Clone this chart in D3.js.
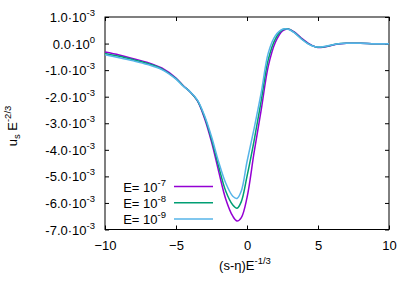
<!DOCTYPE html>
<html>
<head>
<meta charset="utf-8">
<script src="https://cdn.jsdelivr.net/npm/d3@7"></script>
<style>
  body { margin: 0; background: #fff; }
  svg text { font-family: "Liberation Sans", Arial, sans-serif; fill: #000; }
</style>
</head>
<body>
<div id="chart"></div>
<script>
// values of u_s E^-2/3 in units of 1e-3
const xs = [-10, -9, -8, -7, -6, -5, -4.5, -4, -3.5, -3, -2.5, -2, -1.5, -1, -0.7, -0.4, 0, 0.5, 1, 1.5, 2, 2.5, 2.9, 3.3, 3.8, 4.3, 4.8, 5.2, 5.7, 6.3, 7, 8, 9, 10];
const e7 = [-0.32, -0.43, -0.57, -0.71, -0.92, -1.30, -1.58, -1.82, -2.15, -2.80, -3.70, -4.80, -5.85, -6.50, -6.68, -6.55, -5.80, -4.10, -2.50, -0.85, 0.05, 0.48, 0.55, 0.45, 0.22, 0.02, -0.12, -0.15, -0.10, -0.03, 0.01, 0.01, -0.01, -0.01];
const e8 = [-0.37, -0.48, -0.61, -0.75, -0.95, -1.32, -1.59, -1.82, -2.14, -2.75, -3.60, -4.62, -5.55, -6.08, -6.20, -5.95, -5.00, -3.65, -2.15, -0.60, 0.18, 0.52, 0.55, 0.43, 0.20, 0.00, -0.12, -0.14, -0.09, -0.02, 0.01, 0.01, -0.01, -0.01];
const e9 = [-0.42, -0.53, -0.65, -0.79, -0.98, -1.34, -1.60, -1.82, -2.12, -2.70, -3.50, -4.45, -5.25, -5.75, -5.83, -5.55, -4.45, -3.20, -1.85, -0.35, 0.30, 0.54, 0.54, 0.42, 0.18, -0.01, -0.12, -0.13, -0.08, -0.02, 0.01, 0.01, -0.01, -0.01];

const seriesNames = ['-7', '-8', '-9'];
const seriesColors = ['#9400d3', '#009e73', '#56b4e9'];
const seriesValues = [e7, e8, e9];

const xTicks = [-10, -5, 0, 5, 10];
const yTicks = [1, 0, -1, -2, -3, -4, -5, -6, -7];
const yTickMant = ['1.0', '0.0', '-1.0', '-2.0', '-3.0', '-4.0', '-5.0', '-6.0', '-7.0'];
const yTickExp = ['-3', '0', '-3', '-3', '-3', '-3', '-3', '-3', '-3'];

let dimensions = {
  width: 415,
  height: 291,
  margin: { top: 17, bottom: 61.5, left: 105, right: 26 },
};
dimensions.ctrWidth = dimensions.width - dimensions.margin.left - dimensions.margin.right;
dimensions.ctrHeight = dimensions.height - dimensions.margin.top - dimensions.margin.bottom;

const svg = d3.select('#chart').append('svg')
  .attr('width', dimensions.width)
  .attr('height', dimensions.height);

const ctr = svg.append('g')
  .attr('transform', `translate(${dimensions.margin.left}, ${dimensions.margin.top})`);

const xScale = d3.scaleLinear().domain([-10, 10]).range([0, dimensions.ctrWidth]);
const yScale = d3.scaleLinear().domain([-7, 1]).range([dimensions.ctrHeight, 0]);

// ticks (mirrored on all four sides, pointing inwards)
const tickLen = 4;
const xAxis = d3.axisBottom(xScale).tickValues(xTicks).tickSize(-tickLen).tickPadding(9).tickFormat(d3.format('d'));
const xAxisTop = d3.axisTop(xScale).tickValues(xTicks).tickSize(-tickLen).tickFormat('');
const yAxis = d3.axisLeft(yScale).tickValues(yTicks).tickSize(-tickLen).tickFormat('');
const yAxisRight = d3.axisRight(yScale).tickValues(yTicks).tickSize(-tickLen).tickFormat('');

const xg = ctr.append('g').attr('transform', `translate(0, ${dimensions.ctrHeight})`).call(xAxis);
xg.selectAll('text').attr('font-size', 13).style('font-family', '"Liberation Sans", Arial, sans-serif').attr('dy', '0.85em');
ctr.append('g').call(xAxisTop);
ctr.append('g').call(yAxis);
ctr.append('g').attr('transform', `translate(${dimensions.ctrWidth}, 0)`).call(yAxisRight);
ctr.selectAll('.domain').remove();
ctr.selectAll('.tick line').attr('stroke', '#000');

// y tick labels with superscript exponents
yTicks.forEach((t, i) => {
  const txt = ctr.append('text')
    .attr('x', -10)
    .attr('y', yScale(t) + 5)
    .attr('text-anchor', 'end')
    .attr('font-size', 13);
  txt.append('tspan').text(yTickMant[i] + '\u00b710');
  txt.append('tspan').attr('dy', -6).attr('font-size', 9.5).text(yTickExp[i]);
});

// border
ctr.append('rect')
  .attr('width', dimensions.ctrWidth)
  .attr('height', dimensions.ctrHeight)
  .attr('fill', 'none')
  .attr('stroke', '#000')
  .attr('stroke-width', 1);

// curves
const line = d3.line()
  .x((d, i) => xScale(xs[i]))
  .y((d) => yScale(d))
  .curve(d3.curveCatmullRom);

seriesValues.forEach((vals, k) => {
  ctr.append('path')
    .datum(vals)
    .attr('d', line)
    .attr('fill', 'none')
    .attr('stroke', seriesColors[k])
    .attr('stroke-width', 1.5);
});

// legend
const legend = ctr.append('g');
seriesNames.forEach((name, k) => {
  const ly = 169.5 + k * 16.2;
  const t = legend.append('text')
    .attr('x', 61)
    .attr('y', ly + 5)
    .attr('text-anchor', 'end')
    .attr('font-size', 13);
  t.append('tspan').text('E= 10');
  t.append('tspan').attr('dy', -6).attr('font-size', 9.5).text(name);
  legend.append('line')
    .attr('x1', 69).attr('x2', 108)
    .attr('y1', ly).attr('y2', ly)
    .attr('stroke', seriesColors[k])
    .attr('stroke-width', 1.5);
});

// axis labels
const xl = svg.append('text')
  .attr('x', 245)
  .attr('y', 270)
  .attr('text-anchor', 'middle')
  .attr('font-size', 13);
xl.append('tspan').text('(s-\u03b7)E');
xl.append('tspan').attr('dy', -6).attr('font-size', 9.5).text('-1/3');

const yl = svg.append('text')
  .attr('transform', 'translate(17, 126) rotate(-90)')
  .attr('text-anchor', 'middle')
  .attr('font-size', 13);
yl.append('tspan').text('u');
yl.append('tspan').attr('dy', 3).attr('font-size', 9.5).text('s');
yl.append('tspan').attr('dy', -3).text(' E');
yl.append('tspan').attr('dy', -6).attr('font-size', 9.5).text('-2/3');
</script>
</body>
</html>
